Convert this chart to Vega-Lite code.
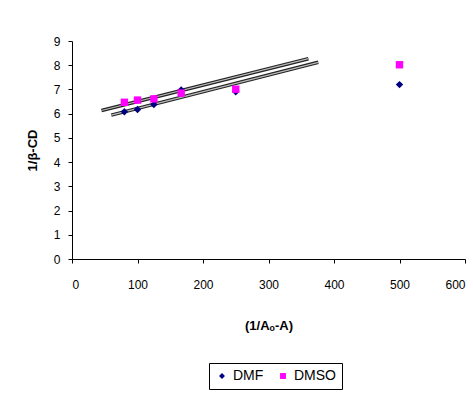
{
  "$schema": "https://vega.github.io/schema/vega-lite/v6.json",
  "width": 393,
  "height": 218,
  "autosize": {"type": "none"},
  "padding": {"left": 72, "top": 41, "right": 8, "bottom": 135},
  "background": "white",
  "config": {
    "view": {"stroke": null},
    "font": "Liberation Sans",
    "axis": {
      "domainColor": "black",
      "tickColor": "black",
      "grid": false,
      "labelFont": "Liberation Sans",
      "labelFontSize": 12,
      "labelColor": "black",
      "labelOverlap": false,
      "titleFont": "Liberation Sans",
      "titleFontWeight": "bold",
      "titleFontSize": 13,
      "titleColor": "black",
      "tickSize": 4
    }
  },
  "datasets": {
    "points": [
      {"x": 80, "y": 6.08, "solvent": "DMF"},
      {"x": 100, "y": 6.17, "solvent": "DMF"},
      {"x": 125, "y": 6.38, "solvent": "DMF"},
      {"x": 166.7, "y": 6.98, "solvent": "DMF"},
      {"x": 250, "y": 6.9, "solvent": "DMF"},
      {"x": 500, "y": 7.2, "solvent": "DMF"},
      {"x": 80, "y": 6.47, "solvent": "DMSO"},
      {"x": 100, "y": 6.56, "solvent": "DMSO"},
      {"x": 125, "y": 6.61, "solvent": "DMSO"},
      {"x": 166.7, "y": 6.85, "solvent": "DMSO"},
      {"x": 250, "y": 7.01, "solvent": "DMSO"},
      {"x": 500, "y": 8.02, "solvent": "DMSO"}
    ],
    "lines": [
      {"x": 45, "y": 6.13, "line": "A"},
      {"x": 361, "y": 8.27, "line": "A"},
      {"x": 60, "y": 5.94, "line": "B"},
      {"x": 376, "y": 8.12, "line": "B"}
    ]
  },
  "encoding": {
    "x": {
      "field": "x",
      "type": "quantitative",
      "scale": {"domain": [0, 600], "nice": false},
      "axis": {
        "values": [0, 100, 200, 300, 400, 500, 600],
        "labelOverlap": false,
        "labelPadding": 16,
        "title": "(1/Aₒ-A)",
        "titlePadding": 29
      }
    },
    "y": {
      "field": "y",
      "type": "quantitative",
      "scale": {"domain": [0, 9], "nice": false, "zero": true},
      "axis": {
        "values": [0, 1, 2, 3, 4, 5, 6, 7, 8, 9],
        "tickCount": 10,
        "labelOverlap": false,
        "labelPadding": 8,
        "title": "1/β-CD",
        "titlePadding": 14
      }
    }
  },
  "layer": [
    {
      "data": {"name": "lines"},
      "mark": {"type": "line", "color": "#222222", "strokeWidth": 3.5},
      "encoding": {"detail": {"field": "line"}}
    },
    {
      "data": {"name": "lines"},
      "mark": {"type": "line", "color": "#bbbbbb", "strokeWidth": 1.2},
      "encoding": {"detail": {"field": "line"}}
    },
    {
      "data": {"name": "points"},
      "mark": {"type": "point", "filled": true, "opacity": 1, "size": 55},
      "encoding": {
        "color": {
          "field": "solvent",
          "type": "nominal",
          "scale": {"domain": ["DMF", "DMSO"], "range": ["#000080", "#FF00FF"]},
          "legend": {
            "title": null,
            "orient": "none",
            "legendX": 137,
            "legendY": 322,
            "direction": "horizontal",
            "strokeColor": "black",
            "padding": 6,
            "labelFont": "Liberation Sans",
            "labelFontSize": 14,
            "labelColor": "black",
            "symbolSize": 35,
            "columnPadding": 12
          }
        },
        "shape": {
          "field": "solvent",
          "type": "nominal",
          "scale": {"domain": ["DMF", "DMSO"], "range": ["diamond", "square"]}
        }
      }
    }
  ]
}
